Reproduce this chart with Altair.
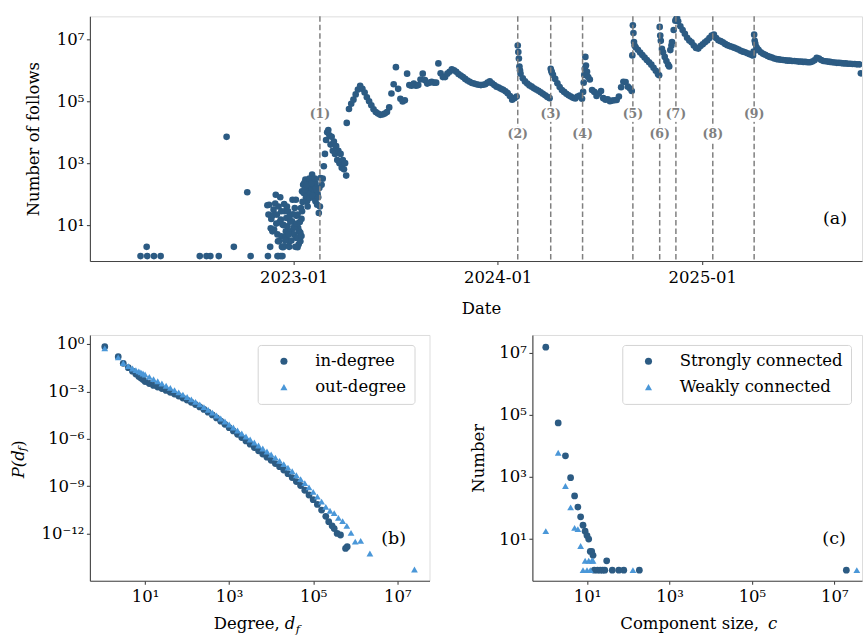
import altair as alt
import numpy as np
import pandas as pd

FONT = "DejaVu Serif"
DARK = "#2c5b83"
LIGHT = "#4a97d8"
GREY = "#808080"
AXIS_COL = "#444444"
FS = 16.5

ORIGIN = pd.Timestamp("2023-01-01")

# ---------------- (a) daily number of follows ----------------
# sparse early days (days after 2023-01-01) and log10(follows)
early_day = [-274, -263, -262, -250, -238, -168, -156, -149, -134, -120, -107, -83, -77,
             -47, -46, -45, -44, -42, -40, -38, -37, -35, -33, -32, -30, -29, -29, -27,
             -26, -25, -24, -23, -22, -23, -21, -20, -19, -20, -17, -17, -16, -14, -14,
             -13, -12, -11, -10, -8, -8, -6, -5, -3, -2, 0, 1, 2, 4, 4, 5, 7, 7, 8, 9,
             10, 12, 12, 13, 14, 15, 15, 17, 18, 19, 21, 22, 24, 24, 26, 27, 29, 30, 31,
             33, 33, 35, 36, 37, 39, 39, 40, 42, 43, 45, 46, 48,
             -22, -18, -15, -12, -9, -7, -4, -1, 2, 3, 6, 8, 11, 14, 16, 20, 23, 25, 28,
             32, 34, 38, 41, 44, 47, -36, -31, -28, -27, -41]
early_log = [0, 0.3, 0, 0, 0, 0, 0, 0, 0, 3.85, 0.3, 2.06, 0,
             1.64, 0, 1.34, 1.66, 0.3, 1.2, 0.8, 1.32, 0.86, 1.7, 1.98, 1.34, 0.7, 0, 0,
             0.48, 1.1, 1.9, 1.18, 0.64, 0, 0.3, 1.02, 0.29, 0, 1.68, 0.32, 1.45, 0.64, 0.8,
             1.23, 0.54, 0.96, 1.45, 0.3, 0.48, 1.12, 0.8, 1.12, 1.82, 0.91, 0.7, 1.55, 1.82, 0.59, 1.3, 0.29, 1.34, 0.91, 0.38,
             0.8, 0.48, 0.75, 1.55, 1.2, 1.45, 2.09, 2.3, 2.04, 2.36, 2.47, 1.9, 1.77, 1.93, 2.1, 2.2, 1.88, 2.41, 2.04,
             2.63, 2.2, 2.3, 1.88, 2.09, 2.36, 1.77, 2.2, 1.66, 2.0, 1.39, 2.2, 2.52,
             1.45, 1.0, 0.5, 1.6, 0.7, 1.3, 0.5, 1.35, 0.95, 0.3, 1.05, 0.6, 1.1, 0.65, 1.75,
             2.15, 2.3, 1.6, 2.5, 2.35, 1.95, 2.5, 2.15, 1.9, 1.6, 1.5, 1.05, 0.48, 1.6, 0.9]

# regularly sampled stretches: (first day after 2023-01-01, step in days, log10 values)
segments = [
    (50, 2, [2.3, 2.5, 2.9, 3.3, 3.75, 4.0, 4.07, 3.9, 3.6, 3.85, 3.4, 3.7, 3.3, 3.55,
             3.1, 3.4, 3.0, 3.3, 2.85, 3.1, 2.8, 3.0, 2.6]),
    (95, 4, [4.3, 4.75, 4.92, 5.05, 5.22, 5.38, 5.5, 5.4, 5.28, 5.13, 5.0, 4.87, 4.74, 4.65,
             4.6, 4.56, 4.57, 4.6, 4.65, 4.8, 5.25, 5.55, 6.1, 5.4, 5.08, 4.99, 5.03, 5.89,
             5.52, 5.5, 5.57, 5.5, 5.52, 5.7, 5.89, 5.68, 5.57, 5.6, 5.63, 5.6, 5.6, 6.22,
             5.9, 5.78, 5.78, 5.89, 5.95, 6.03, 6.0, 5.95, 5.88, 5.83, 5.78, 5.72, 5.67, 5.63,
             5.59, 5.57, 5.55, 5.53, 5.52, 5.53, 5.55, 5.6, 5.64, 5.58, 5.52, 5.47, 5.44, 5.4,
             5.37, 5.32, 5.26, 5.17, 5.05, 5.1, 5.15]),
    (406, 4, [5.89, 5.74, 5.64, 5.57, 5.51, 5.47, 5.42, 5.38, 5.34, 5.29, 5.24, 5.19, 5.14, 5.1]),
    (464, 4, [5.85, 5.72, 5.58, 5.46, 5.36, 5.3, 5.24, 5.19, 5.15, 5.11, 5.09, 5.15, 5.18, 5.08]),
    (530, 4, [5.7, 5.36, 5.3, 5.17, 5.25, 5.33, 5.1, 5.05, 5.06, 5.0, 5.02, 5.03, 5.04, 5.15,
              5.45, 5.63, 5.62, 5.47, 5.41]),
    (612, 4, [6.74, 6.66, 6.57, 6.49, 6.41, 6.33, 6.26, 6.18, 6.08, 5.98, 5.87]),
    (688, 4, [7.58, 7.42, 7.3, 7.18, 7.05, 6.96, 6.9, 6.8, 6.72, 6.7, 6.78, 6.84, 6.9, 6.96,
              7.04, 7.12, 7.15, 7.04, 6.97, 6.94, 6.9, 6.85, 6.81, 6.78, 6.76, 6.73, 6.7,
              6.67, 6.63, 6.6, 6.58, 6.55, 6.52, 6.49]),
    (832, 4, [6.65, 6.58, 6.53, 6.5, 6.46, 6.43, 6.41, 6.38, 6.36, 6.35, 6.34, 6.33, 6.32,
              6.31, 6.31, 6.3, 6.3, 6.29, 6.28, 6.28, 6.27, 6.27, 6.26, 6.26, 6.28, 6.32,
              6.4, 6.38, 6.33, 6.3, 6.29, 6.28, 6.27, 6.26, 6.25, 6.24, 6.24, 6.23, 6.22,
              6.22, 6.21, 6.21, 6.2, 6.2, 6.19, 6.19]),
]

# days around the jumps (days after 2023-01-01) and log10 values
jump_day = [401, 402, 403, 404, 405,
            460, 461, 462,
            518, 519, 520, 521, 522, 523, 525, 527,
            605, 606, 607, 608, 609, 610,
            654, 655, 656, 657, 659, 661, 664, 667, 670, 672,
            674, 676, 677, 680, 683, 685, 686,
            822, 823, 824, 825, 826, 828, 830,
            1015]
jump_log = [6.8, 6.59, 6.38, 6.12, 6.0,
            6.05, 5.98, 5.93,
            5.3, 5.6, 5.85, 6.05, 6.43, 6.15, 5.95, 5.78,
            5.33, 6.48, 7.45, 7.2, 6.91, 6.8,
            5.84, 7.4, 7.12, 6.95, 6.69, 6.58, 6.43, 6.3, 6.18, 6.12,
            6.65, 6.8, 6.91, 7.3, 7.6, 7.66, 7.7,
            6.48, 6.6, 7.15, 6.95, 6.86, 6.75, 6.68,
            5.9]

event_dates = ["2023-02-17", "2024-02-06", "2024-04-05", "2024-06-01", "2024-08-30",
               "2024-10-17", "2024-11-15", "2025-01-20", "2025-04-04"]
event_labels = ["(1)", "(2)", "(3)", "(4)", "(5)", "(6)", "(7)", "(8)", "(9)"]
event_rows = [0, 1, 0, 1, 0, 1, 0, 1, 0]

# ---------------- (b) degree distributions (log10 degree, log10 P) ----------------
in_logk = [0.04, 0.36, 0.48, 0.6, 0.7, 0.78, 0.85, 0.9, 0.95, 1.0, 1.1, 1.2, 1.3, 1.4, 1.5,
           1.6, 1.7, 1.8, 1.9, 2.0, 2.1, 2.2, 2.3, 2.4, 2.5, 2.6, 2.7, 2.8, 2.9, 3.0, 3.1,
           3.2, 3.3, 3.4, 3.5, 3.6, 3.7, 3.8, 3.9, 4.0, 4.1, 4.2, 4.3, 4.4, 4.5, 4.6, 4.7,
           4.8, 4.9, 5.0, 5.1, 5.2, 5.3, 5.37, 5.45, 5.5, 5.57, 5.65, 5.77, 5.81]
in_logp = [-0.17, -0.8, -1.22, -1.5, -1.72, -1.9, -2.05, -2.15, -2.25, -2.38, -2.5, -2.62,
           -2.72, -2.82, -2.94, -3.06, -3.17, -3.29, -3.42, -3.55, -3.69, -3.83, -3.98,
           -4.14, -4.31, -4.49, -4.68, -4.88, -5.08, -5.29, -5.5, -5.71, -5.92, -6.13,
           -6.34, -6.55, -6.76, -6.96, -7.16, -7.36, -7.56, -7.76, -7.97, -8.2, -8.45,
           -8.7, -8.95, -9.25, -9.55, -9.85, -10.15, -10.5, -10.9, -11.24, -11.5, -11.67,
           -11.98, -12.08, -12.93, -12.82]
out_logk = [0.04, 0.36, 0.48, 0.6, 0.7, 0.78, 0.85, 0.9, 0.95, 1.0, 1.1, 1.2, 1.3, 1.4, 1.5,
            1.6, 1.7, 1.8, 1.9, 2.0, 2.1, 2.2, 2.3, 2.4, 2.5, 2.6, 2.7, 2.8, 2.9, 3.0, 3.1,
            3.2, 3.3, 3.4, 3.5, 3.6, 3.7, 3.8, 3.9, 4.0, 4.1, 4.2, 4.3, 4.4, 4.5, 4.6, 4.7,
            4.8, 4.9, 5.0, 5.1, 5.2, 5.3, 5.4, 5.5, 5.6, 5.7, 5.8, 5.9, 6.0, 6.13, 6.35, 7.41]
out_logp = [-0.28, -0.85, -1.2, -1.4, -1.55, -1.65, -1.73, -1.8, -1.87, -1.93, -2.08, -2.22,
            -2.36, -2.5, -2.64, -2.78, -2.92, -3.06, -3.2, -3.35, -3.5, -3.66, -3.82, -3.99,
            -4.16, -4.34, -4.52, -4.71, -4.9, -5.09, -5.28, -5.47, -5.66, -5.85, -6.04,
            -6.23, -6.42, -6.61, -6.8, -6.99, -7.19, -7.39, -7.6, -7.82, -8.05, -8.3, -8.55,
            -8.8, -9.07, -9.35, -9.65, -9.97, -10.3, -10.55, -10.7, -11.0, -11.2, -11.5,
            -11.95, -12.5, -12.45, -13.25, -14.26]

# ---------------- (c) component size distributions ----------------
scc_size = [1, 2, 3, 4, 5, 6, 7, 8, 9, 10, 11, 12, 13, 14, 15, 18, 21, 24, 27, 30, 41, 59,
            78, 186, 19500000]
scc_count = [15000000, 55000, 4800, 950, 245, 107, 52, 28, 18, 13, 10, 4, 4, 3, 1, 1, 1, 1,
             1, 2, 1, 1, 1, 1, 1]
wcc_size = [1, 2, 3, 4, 5, 6, 7, 8, 9, 10, 11, 12, 13, 14, 130, 35000000]
wcc_count = [18, 6000, 510, 105, 23, 21, 6, 1, 2, 1, 2, 1, 2, 2, 1, 1]

# ---------------- helpers ----------------
SUP = {"-": "\u207b", "0": "\u2070", "1": "\u00b9", "2": "\u00b2", "3": "\u00b3",
       "4": "\u2074", "5": "\u2075", "6": "\u2076", "7": "\u2077", "8": "\u2078", "9": "\u2079"}


def pow_label(exps):
    expr = "''"
    for e in exps:
        lab = "10" + "".join(SUP[c] for c in str(e))
        expr = f"abs(log(datum.value)/LN10 - ({e})) < 0.01 ? '{lab}' : " + expr
    return expr


AX = dict(domainColor=AXIS_COL, domainWidth=1.1, tickColor=AXIS_COL, tickSize=3.5,
          tickWidth=1.1, labelFont=FONT, labelFontSize=FS, labelColor="black", grid=False,
          titleFont=FONT, titleFontSize=FS, titleColor="black", titleFontWeight="normal")

one = pd.DataFrame({"k": [0]})


def txt(text, x, y, size=FS, style="normal", align="left", baseline="alphabetic", angle=0,
        color="black", weight="normal"):
    return alt.Chart(one).mark_text(text=text, font=FONT, fontSize=size, fontStyle=style,
                                    align=align, baseline=baseline, angle=angle, color=color,
                                    fontWeight=weight).encode(x=alt.value(x), y=alt.value(y))


# ---------------- build (a) ----------------
days = list(early_day)
logs = list(early_log)
for d0, step, vals in segments:
    days += [d0 + step * i for i in range(len(vals))]
    logs += vals
days += jump_day
logs += jump_log
ts = pd.DataFrame({"date": ORIGIN + pd.to_timedelta(days, unit="D"),
                   "follows": 10 ** np.array(logs, dtype=float)})

W_TOP, H_TOP = 773, 245
x_top = alt.X("date:T",
              scale=alt.Scale(domain=[alt.DateTime(year=2022, month=1, date=1, hours=9, minutes=36),
                                      alt.DateTime(year=2025, month=10, date=14)], nice=False),
              axis=alt.Axis(values=[alt.DateTime(year=2023, month=1, date=1),
                                    alt.DateTime(year=2024, month=1, date=1),
                                    alt.DateTime(year=2025, month=1, date=1)],
                            format="%Y-%m", title="Date", titleX=391.5, titleY=47,
                            titleBaseline="middle", titleAlign="center", labelPadding=5,
                            **AX))
y_top = alt.Y("follows:Q",
              scale=alt.Scale(type="log", domain=[10 ** -0.16, 10 ** 7.74], nice=False),
              axis=alt.Axis(values=[10, 1e3, 1e5, 1e7], labelExpr=pow_label([1, 3, 5, 7]),
                            labelPadding=2.5, title="Number of follows", titleX=-56,
                            titleY=H_TOP / 2, titleAngle=270, titleAlign="center",
                            titleBaseline="middle", **AX))

pts_top = alt.Chart(ts).mark_circle(size=44, color=DARK, opacity=1, clip=True).encode(x=x_top, y=y_top)

ev = pd.DataFrame({"date": pd.to_datetime(event_dates), "label": event_labels, "row": event_rows})
rules = alt.Chart(ev).mark_rule(color=GREY, strokeDash=[5.5, 3], strokeWidth=1.5).encode(x="date:T")
BOX = "M-1,-0.6L1,-0.6L1,0.6L-1,0.6Z"
layers = [pts_top, rules]
for r, ypix in [(0, 98), (1, 118)]:
    sub = alt.Chart(ev).transform_filter(f"datum.row == {r}")
    layers.append(sub.mark_point(shape=BOX, size=650, filled=True, color="white", opacity=1,
                                 strokeWidth=0).encode(x="date:T", y=alt.value(ypix)))
    layers.append(sub.mark_text(font=FONT, fontSize=12.5, fontWeight="bold", color=GREY,
                                baseline="middle").encode(x="date:T", y=alt.value(ypix),
                                                          text="label:N"))
layers.append(txt("(a)", 746, 203, size=17.5, align="center", baseline="middle"))
top = alt.layer(*layers).properties(width=W_TOP, height=H_TOP)

# ---------------- build (b) ----------------
W_BL, H_B = 340, 246
deg = pd.DataFrame({
    "degree": 10 ** np.array(in_logk + out_logk),
    "p": 10 ** np.array(in_logp + out_logp),
    "series": ["in-degree"] * len(in_logk) + ["out-degree"] * len(out_logk),
})


def legend(x, y):
    return alt.Legend(title=None, orient="none", legendX=x, legendY=y, direction="vertical",
                      labelFont=FONT, labelFontSize=FS, labelColor="black", labelLimit=400,
                      symbolSize=50, symbolStrokeWidth=0, padding=8, strokeColor="#d4d4d4",
                      fillColor="white", cornerRadius=3, rowPadding=9, symbolOffset=10,
                      labelOffset=23)


lg_b = legend(168, 10)
pts_b = alt.Chart(deg).mark_point(filled=True, opacity=1, size=46, strokeWidth=0, clip=True).encode(
    x=alt.X("degree:Q", scale=alt.Scale(type="log", domain=[10 ** -0.314, 10 ** 7.768], nice=False),
            axis=alt.Axis(values=[10, 1e3, 1e5, 1e7], labelExpr=pow_label([1, 3, 5, 7]),
                          title=None, labelPadding=4, **AX)),
    y=alt.Y("p:Q", scale=alt.Scale(type="log", domain=[10 ** -14.97, 10 ** 0.569], nice=False),
            axis=alt.Axis(values=[1, 1e-3, 1e-6, 1e-9, 1e-12],
                          labelExpr=pow_label([0, -3, -6, -9, -12]), title=None,
                          labelPadding=2.5, **AX)),
    color=alt.Color("series:N", scale=alt.Scale(domain=["in-degree", "out-degree"],
                                                range=[DARK, LIGHT]), legend=lg_b),
    shape=alt.Shape("series:N", scale=alt.Scale(domain=["in-degree", "out-degree"],
                                                range=["circle", "triangle-up"]), legend=lg_b),
)
bl = alt.layer(
    pts_b,
    txt("(b)", 304, 204, size=17.5, align="center", baseline="middle"),
    txt("Degree,", 124, 294.5),
    txt("d", 195, 294.5, style="italic"),
    txt("f", 206, 298, size=11.5, style="italic"),
    txt("P(d", -71, 143.5, style="italic", baseline="middle", angle=270),
    txt("f", -66.5, 116.5, size=11.5, style="italic", baseline="middle", angle=270),
    txt(")", -71, 112, baseline="middle", angle=270),
).properties(width=W_BL, height=H_B)

# ---------------- build (c) ----------------
W_BR = 330
comp = pd.DataFrame({
    "size": scc_size + wcc_size,
    "count": scc_count + wcc_count,
    "series": ["Strongly connected"] * len(scc_size) + ["Weakly connected"] * len(wcc_size),
})
lg_c = legend(90, 10)
pts_c = alt.Chart(comp).mark_point(filled=True, opacity=1, size=46, strokeWidth=0, clip=True).encode(
    x=alt.X("size:Q", scale=alt.Scale(type="log", domain=[10 ** -0.325, 10 ** 7.67], nice=False),
            axis=alt.Axis(values=[10, 1e3, 1e5, 1e7], labelExpr=pow_label([1, 3, 5, 7]),
                          title=None, labelPadding=4, **AX)),
    y=alt.Y("count:Q", scale=alt.Scale(type="log", domain=[10 ** -0.34, 10 ** 7.57], nice=False),
            axis=alt.Axis(values=[10, 1e3, 1e5, 1e7], labelExpr=pow_label([1, 3, 5, 7]),
                          title="Number", titleX=-54, titleY=H_B / 2, titleAngle=270,
                          titleAlign="center", titleBaseline="middle", labelPadding=2.5, **AX)),
    color=alt.Color("series:N", scale=alt.Scale(domain=["Strongly connected", "Weakly connected"],
                                                range=[DARK, LIGHT]), legend=lg_c),
    shape=alt.Shape("series:N", scale=alt.Scale(domain=["Strongly connected", "Weakly connected"],
                                                range=["circle", "triangle-up"]), legend=lg_c),
)
br = alt.layer(
    pts_c,
    txt("(c)", 302, 204, size=17.5, align="center", baseline="middle"),
    txt("Component size,", 88, 294.5),
    txt("c", 236, 294.5, style="italic"),
).properties(width=W_BR, height=H_B)

bottom = alt.hconcat(bl, br, spacing=103, bounds="flush").resolve_scale(
    color="independent", shape="independent").resolve_legend(color="independent", shape="independent")

chart = alt.vconcat(top, bottom, spacing=74, bounds="flush").properties(
    padding={"left": 10, "top": 14, "right": 0, "bottom": 0}
).configure_view(stroke=None).configure(background="white")

chart.save("out.html", embed_options={"renderer": "svg", "actions": False})
